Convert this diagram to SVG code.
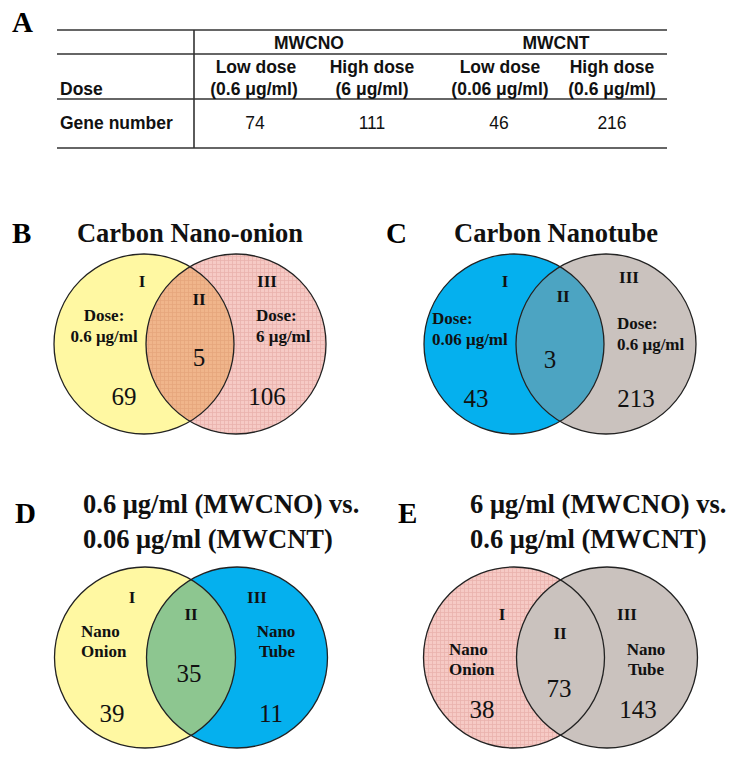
<svg xmlns="http://www.w3.org/2000/svg" width="739" height="758" viewBox="0 0 739 758">
<style>
.pl{font-family:"Liberation Serif",serif;font-weight:bold;font-size:29px;fill:#000}
.tt{font-family:"Liberation Serif",serif;font-weight:bold;font-size:26.5px;fill:#111}
.th{font-family:"Liberation Sans",Arial,sans-serif;font-weight:bold;font-size:17.5px;fill:#111}
.tn{font-family:"Liberation Sans",Arial,sans-serif;font-size:17.5px;fill:#111}
.lb{font-family:"Liberation Serif",serif;font-weight:bold;font-size:17px;fill:#111}
.nm{font-family:"Liberation Serif",serif;font-size:25px;fill:#111}
.c{text-anchor:middle}
.rule{stroke:#333;stroke-width:1.6}
.ring{fill:none;stroke:#222;stroke-width:1.3}
</style>
<defs>
<pattern id="pinkgrid" width="4" height="4" patternUnits="userSpaceOnUse">
<rect width="4" height="4" fill="#F6CAC5"/>
<path d="M0 0.5H4M0.5 0V4" stroke="#EAB3AD" stroke-width="0.8"/>
</pattern>
<pattern id="orangegrid" width="4" height="4" patternUnits="userSpaceOnUse">
<rect width="4" height="4" fill="#F0B58B"/>
<path d="M0 0.5H4M0.5 0V4" stroke="#E6A67C" stroke-width="0.8"/>
</pattern>
<clipPath id="clipB"><circle cx="144" cy="344" r="90"/></clipPath>
<clipPath id="clipC"><circle cx="514" cy="344" r="90"/></clipPath>
<clipPath id="clipD"><circle cx="145" cy="657.5" r="90.5"/></clipPath>
</defs>

<g id="panelA">
<text class="pl" x="12" y="32">A</text>
<line class="rule" x1="57" y1="30" x2="667" y2="30"/>
<line class="rule" x1="57" y1="54" x2="667" y2="54"/>
<line class="rule" x1="57" y1="99" x2="667" y2="99"/>
<line class="rule" x1="57" y1="148" x2="667" y2="148"/>
<line class="rule" x1="194" y1="30" x2="194" y2="148"/>
<text class="th c" x="309" y="49">MWCNO</text>
<text class="th c" x="556" y="49">MWCNT</text>
<text class="th c" x="256" y="73">Low dose</text>
<text class="th c" x="254" y="95">(0.6 μg/ml)</text>
<text class="th c" x="372" y="73">High dose</text>
<text class="th c" x="372" y="95">(6 μg/ml)</text>
<text class="th c" x="500" y="73">Low dose</text>
<text class="th c" x="500" y="95">(0.06 μg/ml)</text>
<text class="th c" x="612" y="73">High dose</text>
<text class="th c" x="612" y="95">(0.6 μg/ml)</text>
<text class="th" x="60" y="95">Dose</text>
<text class="th" x="60" y="129">Gene number</text>
<text class="tn c" x="255" y="129">74</text>
<text class="tn c" x="372" y="129">111</text>
<text class="tn c" x="499" y="129">46</text>
<text class="tn c" x="612" y="129">216</text>
</g>

<g id="panelB">
<text class="pl" x="12" y="243">B</text>
<text class="tt c" x="190" y="242">Carbon Nano-onion</text>
<circle cx="144" cy="344" r="90" fill="#FFF8A2"/>
<circle cx="236" cy="344" r="90" fill="url(#pinkgrid)"/>
<circle cx="236" cy="344" r="90" fill="url(#orangegrid)" clip-path="url(#clipB)"/>
<circle class="ring" cx="144" cy="344" r="90"/>
<circle class="ring" cx="236" cy="344" r="90"/>
<text class="lb c" x="142" y="287">I</text>
<text class="lb c" x="199" y="305">II</text>
<text class="lb c" x="267" y="287">III</text>
<text class="lb c" x="104" y="321">Dose:</text>
<text class="lb c" x="104" y="342">0.6 μg/ml</text>
<text class="lb" x="256" y="321">Dose:</text>
<text class="lb" x="256" y="342">6 μg/ml</text>
<text class="nm c" x="199" y="366">5</text>
<text class="nm c" x="124" y="405">69</text>
<text class="nm c" x="267" y="405">106</text>
</g>

<g id="panelC">
<text class="pl" x="386" y="243">C</text>
<text class="tt c" x="556" y="242">Carbon Nanotube</text>
<circle cx="514" cy="344" r="90" fill="#05B0EE"/>
<circle cx="606" cy="344" r="90" fill="#CAC2BE"/>
<circle cx="606" cy="344" r="90" fill="#4CA4C2" clip-path="url(#clipC)"/>
<circle class="ring" cx="514" cy="344" r="90"/>
<circle class="ring" cx="606" cy="344" r="90"/>
<text class="lb c" x="505" y="287">I</text>
<text class="lb c" x="563" y="302">II</text>
<text class="lb c" x="629" y="283">III</text>
<text class="lb" x="432" y="324">Dose:</text>
<text class="lb" x="432" y="345">0.06 μg/ml</text>
<text class="lb" x="617" y="329">Dose:</text>
<text class="lb" x="617" y="350">0.6 μg/ml</text>
<text class="nm c" x="550" y="368">3</text>
<text class="nm c" x="476" y="407">43</text>
<text class="nm c" x="636" y="407">213</text>
</g>

<g id="panelD">
<text class="pl" x="15" y="523">D</text>
<text class="tt" x="83" y="513">0.6 μg/ml (MWCNO) vs.</text>
<text class="tt" x="83" y="548">0.06 μg/ml (MWCNT)</text>
<circle cx="145" cy="657.5" r="90.5" fill="#FFF8A2"/>
<circle cx="237" cy="657.5" r="90.5" fill="#05B0EE"/>
<circle cx="237" cy="657.5" r="90.5" fill="#8DC690" clip-path="url(#clipD)"/>
<circle class="ring" cx="145" cy="657.5" r="90.5"/>
<circle class="ring" cx="237" cy="657.5" r="90.5"/>
<text class="lb c" x="132" y="603">I</text>
<text class="lb c" x="191" y="620">II</text>
<text class="lb c" x="257" y="603">III</text>
<text class="lb" x="81" y="637">Nano</text>
<text class="lb" x="81" y="657">Onion</text>
<text class="lb c" x="276" y="637">Nano</text>
<text class="lb c" x="277" y="657">Tube</text>
<text class="nm c" x="189" y="682">35</text>
<text class="nm c" x="112" y="722">39</text>
<text class="nm c" x="271" y="722">11</text>
</g>

<g id="panelE">
<text class="pl" x="398" y="523">E</text>
<text class="tt" x="470" y="513">6 μg/ml (MWCNO) vs.</text>
<text class="tt" x="470" y="548">0.6 μg/ml (MWCNT)</text>
<circle cx="514" cy="657.5" r="90.5" fill="url(#pinkgrid)"/>
<circle cx="607" cy="657.5" r="90.5" fill="#CAC2BE"/>
<circle class="ring" cx="514" cy="657.5" r="90.5"/>
<circle class="ring" cx="607" cy="657.5" r="90.5"/>
<text class="lb c" x="502" y="620">I</text>
<text class="lb c" x="560" y="639">II</text>
<text class="lb c" x="627" y="620">III</text>
<text class="lb" x="449" y="655">Nano</text>
<text class="lb" x="449" y="675">Onion</text>
<text class="lb c" x="646" y="655">Nano</text>
<text class="lb c" x="646" y="675">Tube</text>
<text class="nm c" x="559" y="697">73</text>
<text class="nm c" x="482" y="718">38</text>
<text class="nm c" x="638" y="718">143</text>
</g>
</svg>
